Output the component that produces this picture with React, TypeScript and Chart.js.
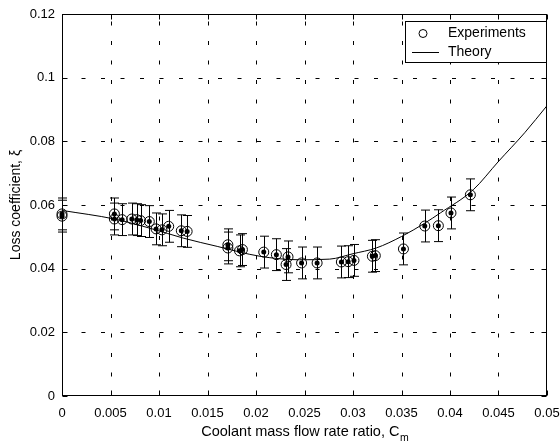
import React, { useEffect, useRef } from 'react';
import { Chart, registerables } from 'chart.js';

Chart.register(...registerables);

const FONT = '"Liberation Sans", Arial, Helvetica, sans-serif';

const xTicks = [0, 0.005, 0.01, 0.015, 0.02, 0.025, 0.03, 0.035, 0.04, 0.045, 0.05];
const xTickLabels = ['0', '0.005', '0.01', '0.015', '0.02', '0.025', '0.03', '0.035', '0.04', '0.045', '0.05'];
const yTicks = [0, 0.02, 0.04, 0.06, 0.08, 0.1, 0.12];
const yTickLabels = ['0', '0.02', '0.04', '0.06', '0.08', '0.1', '0.12'];

const xTitle = 'Coolant mass flow rate ratio, C';
const xTitleSub = 'm';
const yTitle = 'Loss coefficient, ξ';
const legendLabels = ['Experiments', 'Theory'];

// Experiments
const expX = [0.0, 0.0, 0.0054, 0.0054, 0.0062, 0.0072, 0.0077, 0.0081, 0.009, 0.0097, 0.0103, 0.011, 0.0123, 0.0129,
  0.0171, 0.0171, 0.0183, 0.0186, 0.0208, 0.0221, 0.0233, 0.0231, 0.0247, 0.0263, 0.0288, 0.0295, 0.0301,
  0.032, 0.0323, 0.0352, 0.0374, 0.0388, 0.0401, 0.0421];
const expY = [0.0572, 0.0565, 0.0572, 0.0556, 0.0554, 0.0556, 0.0554, 0.0551, 0.0548, 0.0525, 0.0522, 0.0533, 0.0519, 0.0517,
  0.0475, 0.0465, 0.0456, 0.046, 0.0452, 0.0444, 0.0437, 0.0413, 0.0418, 0.0418, 0.0421, 0.0422, 0.0426,
  0.0439, 0.0441, 0.0462, 0.0534, 0.0535, 0.0575, 0.0632];
const expErr = [0.005, 0.005, 0.005, 0.005, 0.005, 0.005, 0.005, 0.005, 0.005, 0.005, 0.005, 0.005, 0.005, 0.005,
  0.005, 0.005, 0.005, 0.005, 0.005, 0.005, 0.005, 0.005, 0.005, 0.005, 0.005, 0.005, 0.005,
  0.005, 0.005, 0.005, 0.005, 0.005, 0.005, 0.005];

// Theory
const theoryX = [0, 0.0054, 0.0093, 0.0125, 0.016, 0.0204, 0.0245, 0.0276, 0.03, 0.0324, 0.035, 0.0374, 0.039, 0.0424, 0.045, 0.0477, 0.05];
const theoryY = [0.0583, 0.0556, 0.0525, 0.0496, 0.047, 0.0439, 0.0428, 0.043, 0.0447, 0.0465, 0.0501, 0.0543, 0.0575, 0.0648, 0.0737, 0.0827, 0.0912];

export default function App() {
  const ref = useRef<HTMLCanvasElement>(null);

  useEffect(() => {
    const canvas = ref.current;
    if (!canvas) return;
    const pts = expX.map((x, i) => ({ x, y: expY[i] }));
    const theory = theoryX.map((x, i) => ({ x, y: theoryY[i] }));

    const axesPlugin = {
      id: 'matlabAxes',
      beforeDatasetsDraw(chart: any) {
        const { ctx, chartArea: a, scales } = chart;
        const xs = scales.x;
        const ys = scales.y;
        ctx.save();
        ctx.strokeStyle = '#000';
        ctx.lineWidth = 1;
        // dotted grid
        ctx.setLineDash([4, 15.5]);
        xTicks.forEach((v) => {
          if (v <= xs.min || v >= xs.max) return;
          const px = Math.round(xs.getPixelForValue(v)) + 0.5;
          ctx.beginPath();
          ctx.moveTo(px, a.bottom);
          ctx.lineTo(px, a.top);
          ctx.stroke();
        });
        yTicks.forEach((v) => {
          if (v <= ys.min || v >= ys.max) return;
          const py = Math.round(ys.getPixelForValue(v)) + 0.5;
          ctx.beginPath();
          ctx.moveTo(a.left, py);
          ctx.lineTo(a.right, py);
          ctx.stroke();
        });
        ctx.setLineDash([]);
        // frame
        const L = Math.round(a.left) + 0.5;
        const R = Math.round(a.right) - 0.5;
        const T = Math.round(a.top) + 0.5;
        const B = Math.round(a.bottom) - 0.5;
        ctx.strokeRect(L, T, R - L, B - T);
        // inward ticks
        const tl = 5;
        ctx.beginPath();
        xTicks.forEach((v) => {
          const px = Math.round(xs.getPixelForValue(v)) + 0.5;
          ctx.moveTo(px, B); ctx.lineTo(px, B - tl);
          ctx.moveTo(px, T); ctx.lineTo(px, T + tl);
        });
        yTicks.forEach((v) => {
          const py = Math.round(ys.getPixelForValue(v)) + 0.5;
          ctx.moveTo(L, py); ctx.lineTo(L + tl, py);
          ctx.moveTo(R, py); ctx.lineTo(R - tl, py);
        });
        ctx.stroke();
        // error bars
        ctx.beginPath();
        expX.forEach((x, i) => {
          const px = Math.round(xs.getPixelForValue(x)) + 0.5;
          const y1 = ys.getPixelForValue(expY[i] + expErr[i]);
          const y2 = ys.getPixelForValue(expY[i] - expErr[i]);
          ctx.moveTo(px, y1); ctx.lineTo(px, y2);
          ctx.moveTo(px - 4.5, y1); ctx.lineTo(px + 4.5, y1);
          ctx.moveTo(px - 4.5, y2); ctx.lineTo(px + 4.5, y2);
        });
        ctx.stroke();
        ctx.restore();
      },
      afterDraw(chart: any) {
        const { ctx, chartArea: a } = chart;
        ctx.save();
        ctx.fillStyle = '#000';
        ctx.strokeStyle = '#000';
        // x title with subscript
        ctx.font = `14.5px ${FONT}`;
        const w1 = ctx.measureText(xTitle).width;
        ctx.font = `10px ${FONT}`;
        const w2 = ctx.measureText(xTitleSub).width;
        const cx = (a.left + a.right) / 2;
        const startX = cx - (w1 + w2) / 2;
        ctx.textBaseline = 'alphabetic';
        ctx.textAlign = 'left';
        ctx.font = `14.5px ${FONT}`;
        ctx.fillText(xTitle, startX, 436);
        ctx.font = `10.5px ${FONT}`;
        ctx.fillText(xTitleSub, startX + w1 + 0.5, 441);
        // y title rotated
        ctx.save();
        ctx.translate(20, (a.top + a.bottom) / 2);
        ctx.rotate(-Math.PI / 2);
        ctx.font = `14px ${FONT}`;
        ctx.textAlign = 'center';
        ctx.textBaseline = 'alphabetic';
        ctx.fillText(yTitle, 0, 0);
        ctx.restore();
        // legend
        const lw = 141, lh = 41;
        const lx = Math.round(a.right) - 1 - lw;
        const ly = Math.round(a.top) + 7;
        ctx.fillStyle = '#fff';
        ctx.fillRect(lx, ly, lw, lh);
        ctx.lineWidth = 1;
        ctx.strokeRect(lx + 0.5, ly + 0.5, lw, lh);
        ctx.fillStyle = '#000';
        ctx.beginPath();
        ctx.arc(lx + 18, ly + 12.5, 4, 0, Math.PI * 2);
        ctx.stroke();
        ctx.beginPath();
        ctx.moveTo(lx + 7, ly + 31.5);
        ctx.lineTo(lx + 34, ly + 31.5);
        ctx.stroke();
        ctx.font = `14px ${FONT}`;
        ctx.textAlign = 'left';
        ctx.textBaseline = 'middle';
        ctx.fillText(legendLabels[0], lx + 43, ly + 12.5);
        ctx.fillText(legendLabels[1], lx + 43, ly + 31);
        ctx.restore();
      },
    };

    const chart = new Chart(canvas, {
      type: 'scatter',
      data: {
        datasets: [
          {
            label: legendLabels[1],
            data: theory,
            showLine: true,
            borderColor: '#000',
            borderWidth: 1,
            pointRadius: 0,
            cubicInterpolationMode: 'monotone',
            order: 3,
          } as any,
          {
            label: legendLabels[0],
            data: pts,
            pointRadius: 5,
            pointBorderWidth: 1,
            borderColor: '#000',
            backgroundColor: 'rgba(0,0,0,0)',
            pointHoverRadius: 5,
            clip: false,
            order: 2,
          } as any,
          {
            label: 'dots',
            data: pts,
            pointRadius: 2.5,
            pointBorderWidth: 0,
            borderColor: '#000',
            backgroundColor: '#000',
            clip: false,
            order: 1,
          } as any,
        ],
      },
      options: {
        responsive: false,
        animation: false,
        events: [],
        layout: { padding: { left: 0, right: 13, top: 14, bottom: 0 } },
        plugins: { legend: { display: false }, tooltip: { enabled: false }, title: { display: false } },
        scales: {
          x: {
            type: 'linear',
            min: 0,
            max: 0.05,
            grid: { display: false, drawTicks: false },
            border: { display: false },
            afterBuildTicks: (s: any) => { s.ticks = xTicks.map((v) => ({ value: v })); },
            afterFit: (s: any) => { s.height = 46; s.paddingLeft = 0; s.paddingRight = 0; },
            ticks: {
              autoSkip: false,
              maxRotation: 0,
              padding: 10,
              color: '#000',
              font: { family: FONT, size: 13 },
              callback: (_v: any, i: number) => xTickLabels[i],
            },
          },
          y: {
            type: 'linear',
            min: 0,
            max: 0.12,
            grid: { display: false, drawTicks: false },
            border: { display: false },
            afterBuildTicks: (s: any) => { s.ticks = yTicks.map((v) => ({ value: v })); },
            afterFit: (s: any) => { s.width = 62; s.paddingTop = 0; s.paddingBottom = 0; },
            ticks: {
              autoSkip: false,
              padding: 7,
              color: '#000',
              font: { family: FONT, size: 13 },
              callback: (_v: any, i: number) => yTickLabels[i],
            },
          },
        },
      } as any,
      plugins: [axesPlugin],
    });
    return () => chart.destroy();
  }, []);

  return (
    <div style={{ position: 'fixed', left: 0, top: 0, width: 560, height: 442, background: '#fff' }}>
      <canvas ref={ref} width={560} height={442} style={{ display: 'block', width: 560, height: 442 }} />
    </div>
  );
}
